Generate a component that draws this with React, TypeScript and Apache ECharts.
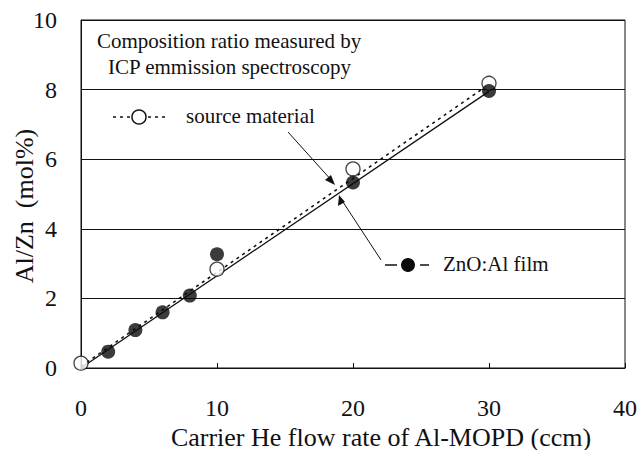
import React, { useEffect, useRef } from "react";
import * as echarts from "echarts";

const FONT = "'Liberation Serif', 'Times New Roman', serif";

const xTicks = [0, 10, 20, 30, 40];
const yTicks = [0, 2, 4, 6, 8, 10];

const sourceFlow = [0, 10, 20, 30];
const sourceRatio = [0.14, 2.84, 5.72, 8.18];

const filmFlow = [2, 4, 6, 8, 10, 20, 30];
const filmRatio = [0.47, 1.09, 1.6, 2.08, 3.27, 5.33, 7.96];

const filmFitX = [0, 30];
const filmFitY = [0, 7.95];
const sourceFitX = [0, 30];
const sourceFitY = [0.05, 8.15];

const xTitle = "Carrier He flow rate of Al-MOPD (ccm)";
const yTitle = "Al/Zn  (mol%)";
const noteLine1 = "Composition ratio measured by";
const noteLine2 = "ICP emmission spectroscopy";
const sourceLabel = "source material";
const filmLabel = "ZnO:Al film";

export default function App() {
  const ref = useRef<HTMLDivElement>(null);
  useEffect(() => {
    if (!ref.current) return;
    const chart = echarts.init(ref.current, undefined, { renderer: "svg" });
    const textStyle = {
      fontFamily: FONT,
      fontSize: 21,
      fill: "#111",
    };
    chart.setOption({
      animation: false,
      backgroundColor: "#fff",
      textStyle: { fontFamily: FONT },
      grid: {
        left: 81,
        right: 15,
        top: 20,
        bottom: 82,
        containLabel: false,
        outerBoundsMode: "none",
        show: true,
        borderColor: "#111",
        borderWidth: 1,
      },
      xAxis: {
        type: "value",
        min: xTicks[0],
        max: xTicks[xTicks.length - 1],
        interval: 10,
        axisLine: { lineStyle: { color: "#111", width: 1 } },
        axisTick: { inside: true, length: 5, lineStyle: { color: "#111" } },
        axisLabel: { fontFamily: FONT, fontSize: 24, color: "#111", margin: 28 },
        splitLine: { show: false },
        name: xTitle,
        nameLocation: "middle",
        nameGap: 56,
        nameMoveOverlap: false,
        nameTextStyle: {
          fontFamily: FONT,
          fontSize: 26,
          color: "#111",
          padding: [0, 0, 0, 56],
        },
      },
      yAxis: {
        type: "value",
        min: yTicks[0],
        max: yTicks[yTicks.length - 1],
        interval: 2,
        axisLine: { show: true, lineStyle: { color: "#111", width: 1 } },
        axisTick: { show: false },
        axisLabel: { fontFamily: FONT, fontSize: 24, color: "#111", margin: 24 },
        splitLine: { show: true, lineStyle: { color: "#111", width: 1 } },
        name: yTitle,
        nameLocation: "middle",
        nameGap: 44,
        nameMoveOverlap: false,
        nameTextStyle: {
          fontFamily: FONT,
          fontSize: 26,
          color: "#111",
          padding: [0, 24, 0, 0],
        },
      },
      series: [
        {
          type: "line",
          data: filmFitX.map((x, i) => [x, filmFitY[i]]),
          showSymbol: false,
          symbol: "none",
          lineStyle: { color: "#111", width: 1.3 },
          z: 2,
        },
        {
          type: "line",
          data: sourceFitX.map((x, i) => [x, sourceFitY[i]]),
          showSymbol: false,
          symbol: "none",
          lineStyle: { color: "#111", width: 1.6, type: [3, 4] },
          z: 2,
        },
        {
          type: "scatter",
          data: sourceFlow.map((x, i) => [x, sourceRatio[i]]),
          symbol: "circle",
          symbolSize: 14,
          itemStyle: { color: "#fff", borderColor: "#111", borderWidth: 1.3 },
          z: 3,
        },
        {
          type: "scatter",
          data: filmFlow.map((x, i) => [x, filmRatio[i]]),
          symbol: "circle",
          symbolSize: 14,
          itemStyle: { color: "#0a0a0a" },
          z: 4,
        },
      ],
      graphic: [
        { type: "text", left: 97, top: 30, style: { ...textStyle, text: noteLine1 } },
        { type: "text", left: 108, top: 56, style: { ...textStyle, text: noteLine2 } },
        {
          type: "line",
          shape: { x1: 113, y1: 117, x2: 165, y2: 117 },
          style: { stroke: "#111", lineWidth: 1.6, lineDash: [3, 4] },
          z: 10,
        },
        {
          type: "circle",
          shape: { cx: 139, cy: 117, r: 7 },
          style: { fill: "#fff", stroke: "#111", lineWidth: 1.5 },
          z: 11,
        },
        { type: "text", left: 186, top: 105, style: { ...textStyle, text: sourceLabel } },
        {
          type: "line",
          shape: { x1: 385, y1: 265, x2: 397, y2: 265 },
          style: { stroke: "#111", lineWidth: 1.5 },
          z: 10,
        },
        {
          type: "line",
          shape: { x1: 420, y1: 265, x2: 429, y2: 265 },
          style: { stroke: "#111", lineWidth: 1.5 },
          z: 10,
        },
        {
          type: "circle",
          shape: { cx: 408, cy: 265, r: 7 },
          style: { fill: "#0a0a0a" },
          z: 11,
        },
        { type: "text", left: 443, top: 253, style: { ...textStyle, text: filmLabel } },
        {
          type: "line",
          shape: { x1: 288, y1: 132, x2: 333, y2: 182 },
          style: { stroke: "#111", lineWidth: 1 },
          z: 10,
        },
        {
          type: "polygon",
          shape: { points: [[335, 185], [325, 180], [331, 175]] },
          style: { fill: "#111" },
          z: 10,
        },
        {
          type: "line",
          shape: { x1: 381, y1: 260, x2: 341, y2: 199 },
          style: { stroke: "#111", lineWidth: 1 },
          z: 10,
        },
        {
          type: "polygon",
          shape: { points: [[339, 195], [338, 206], [345, 202]] },
          style: { fill: "#111" },
          z: 10,
        },
      ],
    });
    return () => chart.dispose();
  }, []);
  return (
    <div
      ref={ref}
      style={{ position: "fixed", left: 0, top: 0, width: 640, height: 450, background: "#fff" }}
    />
  );
}
